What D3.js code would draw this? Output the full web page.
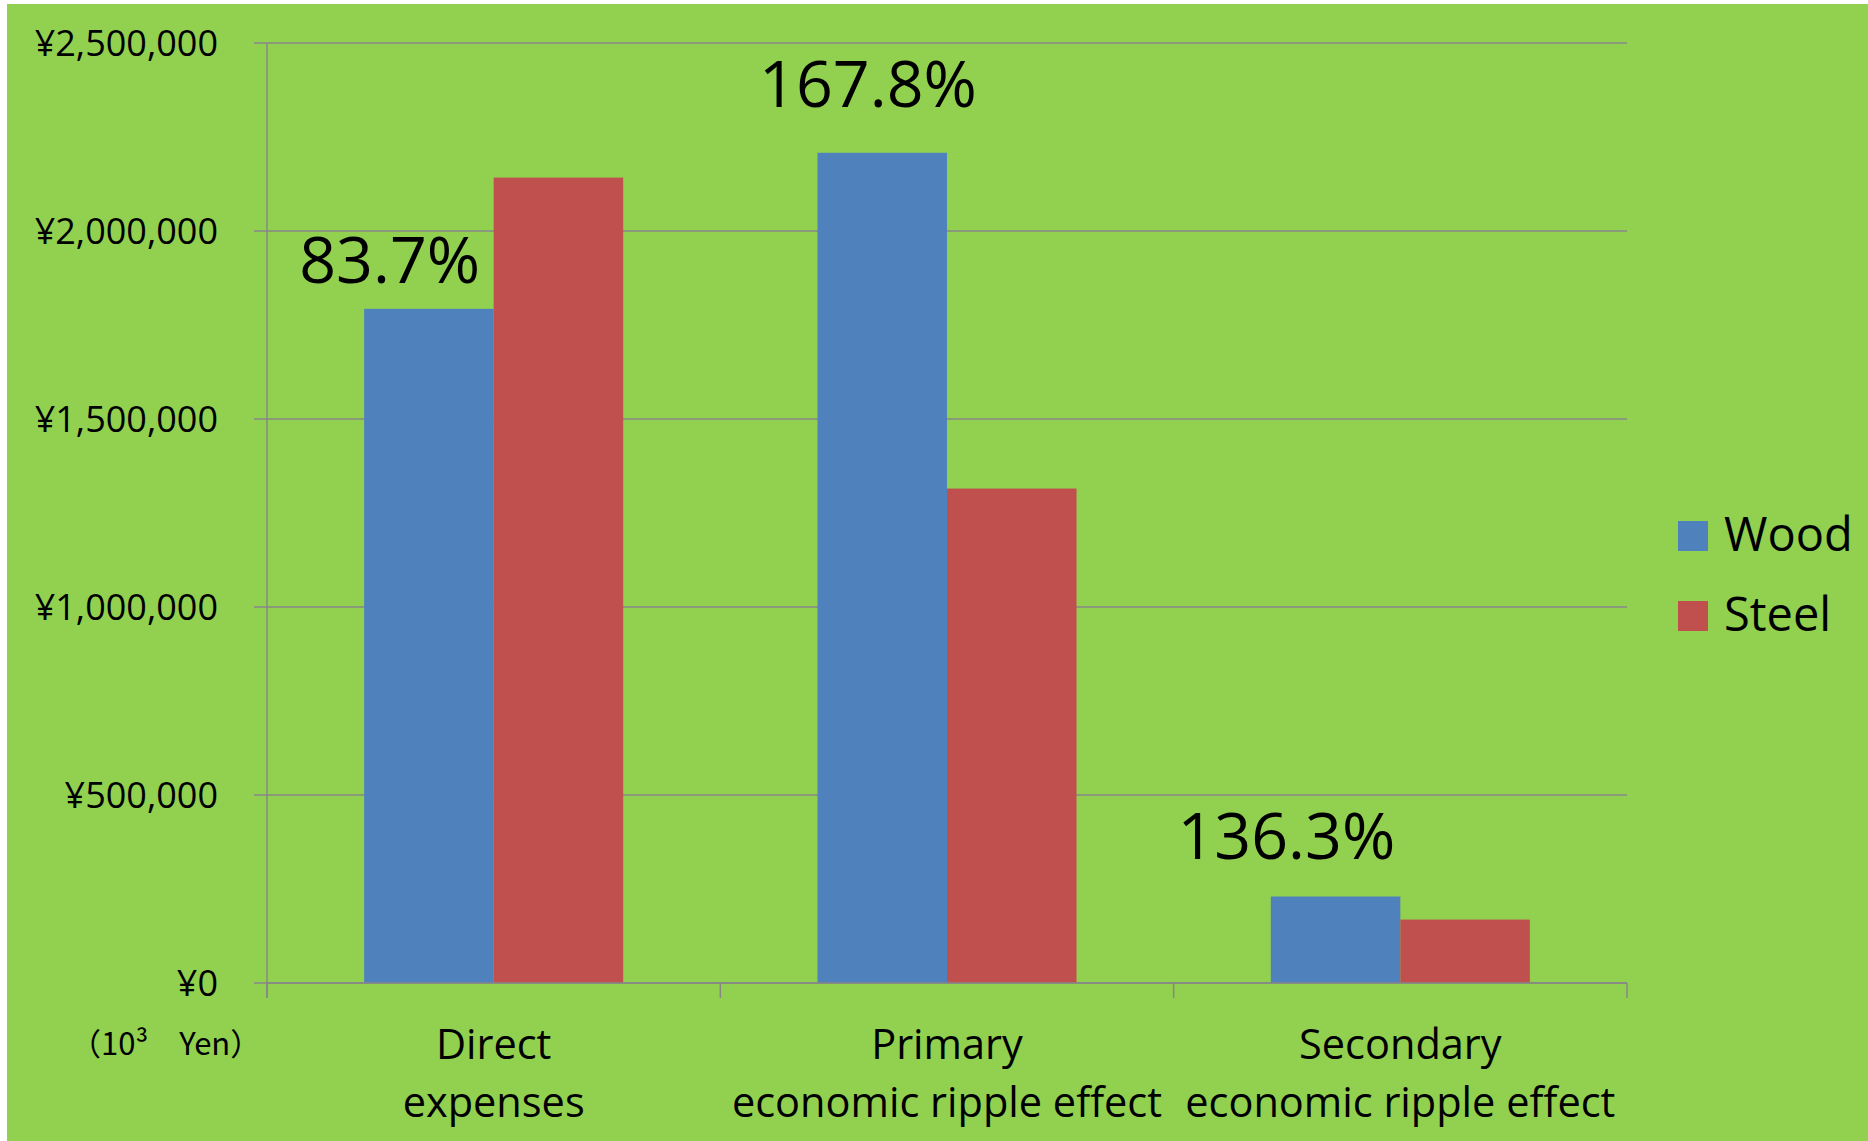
<!DOCTYPE html>
<html>
<head>
<meta charset="utf-8">
<script src="https://cdn.jsdelivr.net/npm/d3@7"></script>
<style>
  body { margin: 0; background: #fff; }
  text { font-family: "Open Sans", "Noto Sans", sans-serif; fill: #000; }
</style>
</head>
<body>
<div id="chart"></div>
<script>
// data (10^3 yen)
var categories = ["Direct\nexpenses", "Primary\neconomic ripple effect", "Secondary\neconomic ripple effect"];
var series = ["Wood", "Steel"];
var wood = [1793000, 2208000, 230000];
var steel = [2142000, 1315000, 168700];
var ratioLabels = ["83.7%", "167.8%", "136.3%"];
var yTicks = [0, 500000, 1000000, 1500000, 2000000, 2500000];
var colors = ["#4F81BD", "#C0504D"];

// hand-placed text boxes: offset from category centre and from wood bar top
var labelDx = [-104, -79, -114];
var labelDy = [-26, -46, -38];

var width = 1868, height = 1141;
var margin = { top: 43, left: 267, right: 241, bottom: 158 };

var svg = d3.select("#chart")
  .append("svg")
  .attr("width", width)
  .attr("height", height);

svg.append("rect")
  .attr("x", 7).attr("y", 4)
  .attr("width", width - 7).attr("height", height - 4)
  .attr("fill", "#92D050");

var x0 = d3.scaleBand()
  .domain(d3.range(categories.length))
  .range([margin.left, width - margin.right]);

// excel style gap width 150%
var barW = x0.bandwidth() / 3.5;
var x1 = d3.scaleBand()
  .domain(series)
  .range([barW * 0.75, barW * 2.75]);

var y = d3.scaleLinear()
  .domain([0, 2500000])
  .range([height - margin.bottom, margin.top]);

var fmt = function(v) { return "¥" + d3.format(",")(v); };

// gridlines + y ticks
var grid = svg.append("g");
grid.selectAll("line")
  .data(yTicks)
  .enter()
  .append("line")
  .attr("x1", margin.left - 13)
  .attr("x2", width - margin.right)
  .attr("y1", function(d) { return y(d); })
  .attr("y2", function(d) { return y(d); })
  .attr("stroke", "#878787")
  .attr("stroke-width", 1.5);

grid.selectAll("text")
  .data(yTicks)
  .enter()
  .append("text")
  .attr("x", 218)
  .attr("y", function(d) { return y(d); })
  .attr("dy", "0.36em")
  .attr("text-anchor", "end")
  .style("font-size", "36px")
  .text(fmt);

// bars
var rows = categories.map(function(c, i) { return [wood[i], steel[i]]; });

var groups = svg.selectAll("g.cat")
  .data(rows)
  .enter()
  .append("g")
  .attr("class", "cat")
  .attr("transform", function(d, i) { return "translate(" + x0(i) + ",0)"; });

groups.selectAll("rect")
  .data(function(d) { return d; })
  .enter()
  .append("rect")
  .attr("x", function(d, j) { return x1(series[j]); })
  .attr("y", function(d) { return y(d); })
  .attr("width", x1.bandwidth())
  .attr("height", function(d) { return y(0) - y(d); })
  .attr("fill", function(d, j) { return colors[j]; });

// axes lines
var base = y(0);
svg.append("line")
  .attr("x1", margin.left).attr("x2", margin.left)
  .attr("y1", margin.top).attr("y2", base + 15)
  .attr("stroke", "#878787").attr("stroke-width", 1.5);

svg.append("line")
  .attr("x1", margin.left).attr("x2", width - margin.right)
  .attr("y1", base).attr("y2", base)
  .attr("stroke", "#878787").attr("stroke-width", 1.5);

svg.selectAll("line.xtick")
  .data(d3.range(categories.length + 1))
  .enter()
  .append("line")
  .attr("class", "xtick")
  .attr("x1", function(i) { return margin.left + i * x0.bandwidth(); })
  .attr("x2", function(i) { return margin.left + i * x0.bandwidth(); })
  .attr("y1", base).attr("y2", base + 15)
  .attr("stroke", "#878787").attr("stroke-width", 1.5);

// category labels
categories.forEach(function(c, i) {
  var t = svg.append("text")
    .attr("text-anchor", "middle")
    .style("font-size", "41.5px");
  c.split("\n").forEach(function(line, k) {
    t.append("tspan")
      .attr("x", x0(i) + x0.bandwidth() / 2)
      .attr("y", 1059 + k * 58)
      .text(line);
  });
});

// unit
svg.append("text")
  .attr("x", 70)
  .attr("y", 1055)
  .style("font-family", "'Noto Sans CJK JP', 'Open Sans', sans-serif")
  .style("font-size", "31px")
  .text("（10³　Yen）");

// ratio labels
svg.selectAll("text.ratio")
  .data(ratioLabels)
  .enter()
  .append("text")
  .attr("class", "ratio")
  .attr("x", function(d, i) { return x0(i) + x0.bandwidth() / 2 + labelDx[i]; })
  .attr("y", function(d, i) { return y(wood[i]) + labelDy[i]; })
  .attr("text-anchor", "middle")
  .style("font-size", "64.5px")
  .text(function(d) { return d; });

// legend
var legend = svg.selectAll("g.legend")
  .data(series)
  .enter()
  .append("g")
  .attr("class", "legend")
  .attr("transform", function(d, i) { return "translate(1678," + (521 + i * 80) + ")"; });

legend.append("rect")
  .attr("width", 30).attr("height", 30)
  .attr("fill", function(d, i) { return colors[i]; });

legend.append("text")
  .attr("x", 46)
  .attr("y", 30)
  .style("font-size", "47px")
  .text(function(d) { return d; });
</script>
</body>
</html>
